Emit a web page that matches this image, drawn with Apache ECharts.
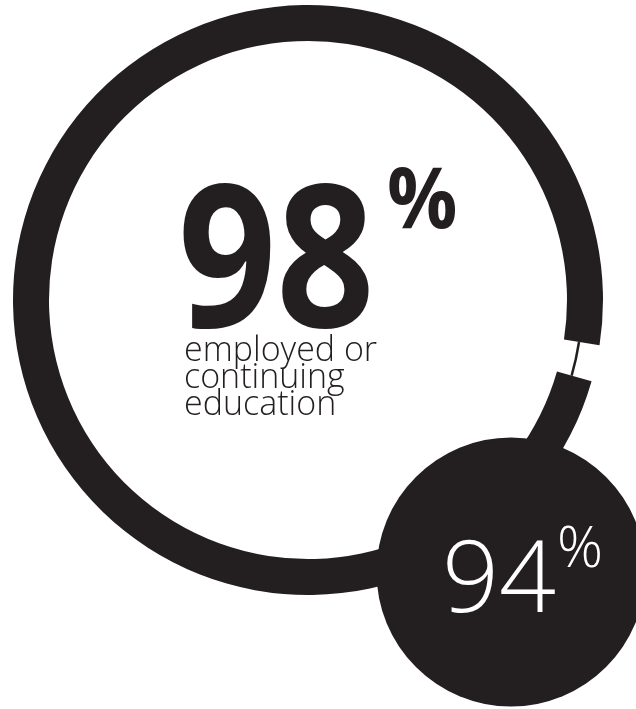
<!DOCTYPE html>
<html><head><meta charset="utf-8">
<script src="https://cdn.jsdelivr.net/npm/echarts@6/dist/echarts.min.js"></script>
<style>html,body{margin:0;padding:0;background:#fff}#c{width:636px;height:709px}</style>
</head><body><div id="c"></div>
<script>
// ---- data ----
const ringCategories = ['employed or continuing education', 'other'];
const ringValues = [98, 2];
const bubbleCategories = ['94%'];
const bubbleValues = [94];
const mainValueText = '98';
const subLabelLines = ['employed or', 'continuing', 'education'];
const bubbleValueText = '94';

const ink = '#231f20';
const chart = echarts.init(document.getElementById('c'), null, {renderer: 'canvas'});

const ringData = ringCategories.map((n, i) => ({
  name: n, value: ringValues[i],
  itemStyle: {color: i === 0 ? ink : 'rgba(0,0,0,0)'}
}));
const connectorData = ringCategories.map((n, i) => ({
  name: n, value: ringValues[i],
  itemStyle: {color: i === 0 ? 'rgba(0,0,0,0)' : ink}
}));

const option = {
  animation: false,
  backgroundColor: '#ffffff',
  series: [
    {
      type: 'pie', center: [308, 300], radius: [259, 295], startAngle: -16, clockwise: true,
      silent: true, label: {show: false}, labelLine: {show: false}, z: 1,
      data: ringData
    },
    {
      type: 'pie', center: [308, 300], radius: [273, 275.5], startAngle: -16, clockwise: true,
      silent: true, label: {show: false}, labelLine: {show: false}, z: 1,
      data: connectorData
    },
    {
      type: 'pie', center: [511, 572], radius: [0, 134.5], silent: true, z: 2,
      label: {show: false}, labelLine: {show: false},
      data: bubbleCategories.map((n, i) => ({name: n, value: bubbleValues[i], itemStyle: {color: ink}}))
    }
  ],
  graphic: [
    {type: 'text', z: 10, x: 178, y: 270, scaleX: 0.86, style: {text: mainValueText, x: 0, y: 0, font: '700 200px "Open Sans"', fill: ink, align: 'left', verticalAlign: 'middle'}},
    {type: 'text', z: 10, x: 387, y: 204, scaleX: 0.92, style: {text: '%', x: 0, y: 0, font: '700 85px "Open Sans"', fill: ink, align: 'left', verticalAlign: 'middle'}},
    {type: 'text', z: 10, style: {text: subLabelLines.join('\n'), x: 184, y: 338, font: '300 34px "Open Sans"', lineHeight: 27, fill: ink, align: 'left', verticalAlign: 'top'}},
    {type: 'text', z: 10, style: {text: bubbleValueText, x: 442, y: 584, font: '300 100px "Open Sans"', fill: '#ffffff', align: 'left', verticalAlign: 'middle'}},
    {type: 'text', z: 10, style: {text: '%', x: 557, y: 551, font: '300 57px "Open Sans"', fill: '#ffffff', align: 'left', verticalAlign: 'middle'}}
  ]
};
chart.setOption(option);
</script>
</body></html>
